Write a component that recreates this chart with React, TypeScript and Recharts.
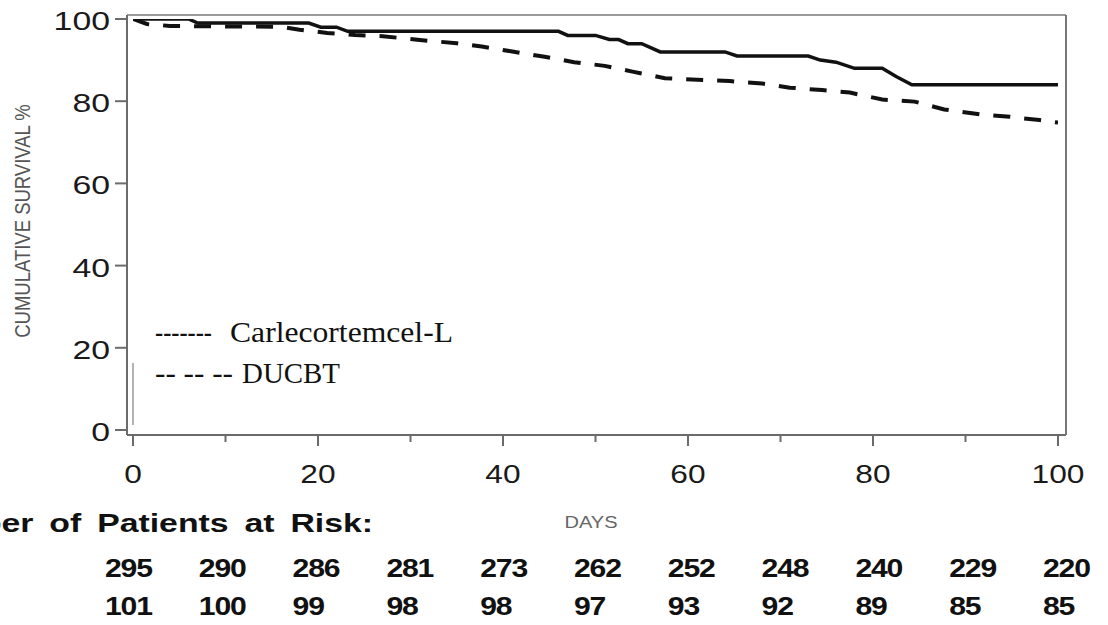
import React from 'react';
import { LineChart, Line, XAxis, YAxis, ReferenceLine } from 'recharts';

// Kaplan-Meier curves (day, cumulative survival %)
const carleDays = [0, 6, 7, 19, 20.3, 22, 23.2, 46, 47, 50, 51.5, 52.5, 53.5, 55, 57, 64, 65.3, 73, 74.3, 76, 78, 81, 82.5, 84.2, 100];
const carleSurvival = [100, 100, 99, 99, 98, 98, 97, 97, 96, 96, 95, 95, 94, 94, 92, 92, 91, 91, 90, 89.5, 88, 88, 86, 84, 84];

const ducbtDays = [0, 1.5, 4, 16, 18, 21, 24, 27, 31, 35, 37.7, 41, 44.5, 47.7, 51, 54, 57.5, 61, 64.5, 68, 71, 74.5, 77.5, 81, 84.5, 87.7, 91.5, 94.8, 98, 100];
const ducbtSurvival = [100, 98.8, 98.3, 98.1, 97.4, 96.6, 96.1, 95.8, 94.9, 94.1, 93.3, 92.1, 90.8, 89.5, 88.6, 87.2, 85.6, 85.2, 84.9, 84.3, 83.3, 82.7, 82.1, 80.4, 79.9, 78, 76.8, 76.2, 75.4, 74.8];

const xTicks = [0, 10, 20, 30, 40, 50, 60, 70, 80, 90, 100];
const yTicks = [0, 20, 40, 60, 80, 100];

const riskCarle = [295, 290, 286, 281, 273, 262, 252, 248, 240, 229, 220];
const riskDucbt = [101, 100, 99, 98, 98, 97, 93, 92, 89, 85, 85];

// small gray mark near the origin
const originMark = [
  { x: 0, y: 1.2 },
  { x: 0, y: 16.3 },
];

const carleData = carleDays.map((day, i) => ({ day, value: carleSurvival[i] }));
const ducbtData = ducbtDays.map((day, i) => ({ day, value: ducbtSurvival[i] }));

const sans = '"Liberation Sans", Arial, sans-serif';
const serif = '"Liberation Serif", "Times New Roman", serif';
const frame = '#6b6b6b';

function XTick(props: any) {
  const { x, y, payload } = props;
  const major = payload.value % 20 === 0;
  return (
    <g>
      <line x1={x} y1={y} x2={x} y2={y + (major ? 11 : 7)} stroke={frame} strokeWidth={2} />
      {major && (
        <text
          transform={`translate(${x},${y + 48}) scale(1.22,1)`}
          textAnchor="middle"
          fontFamily={sans}
          fontSize={26}
          fill="#1a1a1a"
        >
          {payload.value}
        </text>
      )}
    </g>
  );
}

function YTick(props: any) {
  const { x, y, payload } = props;
  return (
    <g>
      <line x1={x - 12} y1={y} x2={x} y2={y} stroke={frame} strokeWidth={2} />
      <text
        transform={`translate(${x - 17},${y + 11}) scale(1.3,1)`}
        textAnchor="end"
        fontFamily={sans}
        fontSize={26}
        fill="#1a1a1a"
      >
        {payload.value}
      </text>
    </g>
  );
}

export default function App() {
  return (
    <div style={{ position: 'absolute', left: 0, top: 0, width: 1108, height: 625, background: '#fff' }}>
      <LineChart width={1108} height={625} margin={{ top: 14, right: 41, bottom: 140, left: 67 }}>
        <XAxis
          xAxisId="b"
          dataKey="day"
          type="number"
          domain={[0, 100]}
          ticks={xTicks}
          interval={0}
          height={50}
          padding={{ left: 6, right: 8 }}
          tickSize={0}
          tickMargin={0}
          tickLine={false}
          axisLine={{ stroke: frame, strokeWidth: 2 }}
          tick={(p: any) => <XTick {...p} />}
          allowDataOverflow
        />
        <XAxis
          xAxisId="t"
          orientation="top"
          type="number"
          domain={[0, 100]}
          height={1}
          tick={false}
          tickLine={false}
          axisLine={{ stroke: '#999', strokeWidth: 2 }}
        />
        <YAxis
          yAxisId="l"
          type="number"
          domain={[0, 100]}
          ticks={yTicks}
          interval={0}
          width={60}
          padding={{ top: 4, bottom: 5 }}
          tickSize={0}
          tickMargin={0}
          tickLine={false}
          axisLine={{ stroke: frame, strokeWidth: 2 }}
          tick={(p: any) => <YTick {...p} />}
          allowDataOverflow
        />
        <YAxis
          yAxisId="r"
          orientation="right"
          type="number"
          domain={[0, 100]}
          width={1}
          tick={false}
          tickLine={false}
          axisLine={{ stroke: '#777', strokeWidth: 2 }}
        />
        <ReferenceLine
          xAxisId="b"
          yAxisId="l"
          segment={originMark}
          stroke="#9a9a9a"
          strokeWidth={1.5}
        />
        <Line
          xAxisId="b"
          yAxisId="l"
          data={carleData}
          dataKey="value"
          type="linear"
          stroke="#111"
          strokeWidth={3.5}
          dot={false}
          isAnimationActive={false}
        />
        <Line
          xAxisId="b"
          yAxisId="l"
          data={ducbtData}
          dataKey="value"
          type="linear"
          stroke="#111"
          strokeWidth={4}
          strokeDasharray="17 14"
          dot={false}
          isAnimationActive={false}
        />
      </LineChart>

      <svg
        width={1108}
        height={625}
        style={{ position: 'absolute', left: 0, top: 0, pointerEvents: 'none' }}
      >
        <text
          transform="translate(30,221) rotate(-90) scale(1,1.2)"
          textAnchor="middle"
          fontFamily={sans}
          fontSize={18.5}
          fill="#555"
        >
          CUMULATIVE SURVIVAL %
        </text>
        <text
          transform="translate(591,528) scale(1.25,1)"
          textAnchor="middle"
          fontFamily={sans}
          fontSize={16}
          fill="#666"
        >
          DAYS
        </text>

        <text fontFamily={serif} fontSize={29} fill="#111" x={155} y={342} textLength={57} lengthAdjust="spacingAndGlyphs">
          -------
        </text>
        <text fontFamily={serif} fontSize={29} fill="#111" x={230} y={342} textLength={223} lengthAdjust="spacingAndGlyphs">
          Carlecortemcel-L
        </text>
        <text fontFamily={serif} fontSize={29} fill="#111" x={155} y={383} textLength={78} lengthAdjust="spacingAndGlyphs">
          -- -- --
        </text>
        <text fontFamily={serif} fontSize={29} fill="#111" x={242} y={383} textLength={98} lengthAdjust="spacingAndGlyphs">
          DUCBT
        </text>

        <text
          transform="translate(373,532) scale(1.3,1)"
          textAnchor="end"
          fontFamily={sans}
          fontWeight="bold"
          fontSize={26}
          wordSpacing={5}
          fill="#111"
        >
          Number of Patients at Risk:
        </text>
        {riskCarle.map((n, i) => (
          <text
            key={`c${i}`}
            transform={`translate(${105 + i * 93.8},577) scale(1.16,1)`}
            fontFamily={sans}
            fontWeight="bold"
            fontSize={26}
            letterSpacing={-1}
            fill="#111"
          >
            {n}
          </text>
        ))}
        {riskDucbt.map((n, i) => (
          <text
            key={`d${i}`}
            transform={`translate(${105 + i * 93.8},615) scale(1.16,1)`}
            fontFamily={sans}
            fontWeight="bold"
            fontSize={26}
            letterSpacing={-1}
            fill="#111"
          >
            {n}
          </text>
        ))}
      </svg>
    </div>
  );
}
